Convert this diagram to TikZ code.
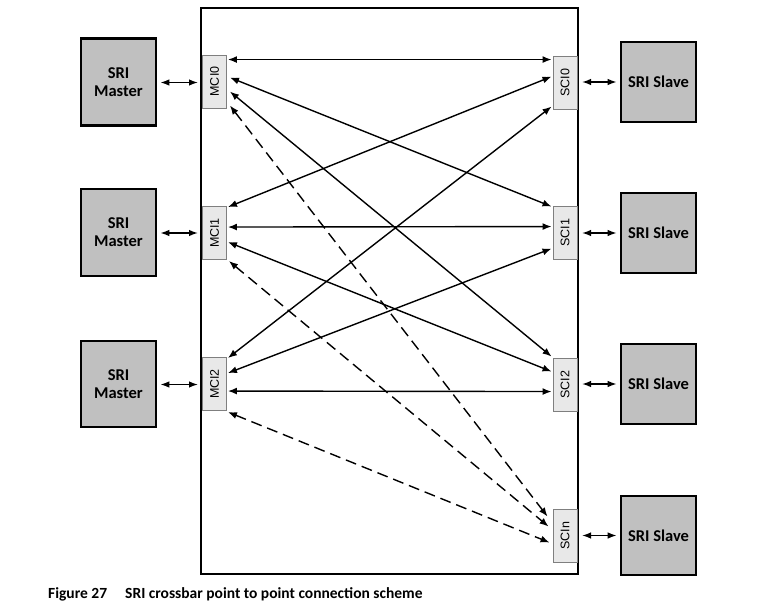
\documentclass[tikz,border=0pt]{standalone}
\usepackage{fontspec}
\setmainfont{Carlito}
\newfontfamily\portfont{Liberation Sans}
\usetikzlibrary{arrows.meta,calc}
\definecolor{boxgray}{HTML}{C0C0C0}
\definecolor{portgray}{HTML}{E8E8E8}
\definecolor{portedge}{HTML}{7F7F7F}
\tikzset{
  unitbox/.style={draw=black,line width=2.6pt,fill=boxgray,minimum width=75pt,inner sep=0pt,align=center,font=\fontsize{16.5}{18}\selectfont\bfseries},
  portbox/.style={draw=portedge,line width=0.9pt,fill=portgray,minimum width=24pt,minimum height=53pt,inner sep=0pt},
  portlabel/.style={rotate=90,font=\portfont\fontsize{12.5}{12.5}\selectfont},
  link/.style={line width=1.4pt,{Latex[length=9pt,width=7pt]}-{Latex[length=9pt,width=7pt]}},
  dlink/.style={link,dash pattern=on 11pt off 6pt},
  sidelink/.style={line width=1.4pt,{Latex[length=9pt,width=6.5pt]}-{Latex[length=9pt,width=6.5pt]}},
  captext/.style={anchor=base west,inner sep=0pt,font=\fontsize{15.5}{17}\selectfont\bfseries}
}
\begin{document}
\begin{tikzpicture}[x=1pt,y=-1pt]
\useasboundingbox (0,0) rectangle (781,604);
% crossbar frame
\draw[line width=2pt] (201,8) rectangle (578,574);
\coordinate (frameL) at (201,300);
\coordinate (frameR) at (578,300);
% masters
\node[unitbox,minimum height=87pt] (m0) at (118.5,82) {SRI\\Master};
\node[unitbox,minimum height=87pt] (m1) at (118.5,232.5) {SRI\\Master};
\node[unitbox,minimum height=86pt] (m2) at (118.5,384) {SRI\\Master};
% slaves
\node[unitbox,minimum height=80pt] (s0) at (658.5,82) {SRI Slave};
\node[unitbox,minimum height=80pt] (s1) at (658.5,233) {SRI Slave};
\node[unitbox,minimum height=80pt] (s2) at (658.5,384) {SRI Slave};
\node[unitbox,minimum height=79pt] (s3) at (658.5,535.5) {SRI Slave};
% ports
\node[portbox] (mci0) at (214.5,81.5) {};
\node[portbox] (mci1) at (214.5,233) {};
\node[portbox] (mci2) at (214.5,384) {};
\node[portbox] (sci0) at (565,82.5) {};
\node[portbox] (sci1) at (565,232.5) {};
\node[portbox] (sci2) at (565,384.5) {};
\node[portbox] (sci3) at (565,535.5) {};
\node[portlabel] at (mci0) {MCI0};
\node[portlabel] at (mci1) {MCI1};
\node[portlabel] at (mci2) {MCI2};
\node[portlabel] at (sci0) {SCI0};
\node[portlabel] at (sci1) {SCI1};
\node[portlabel] at (sci2) {SCI2};
\node[portlabel] at (sci3) {SCIn};
% master / slave side links
\draw[sidelink] ($(m0.east)+(3,0.5)$) -- ($(m0.east -| frameL)+(-3,0.5)$);
\draw[sidelink] ($(m1.east)+(3,0.5)$) -- ($(m1.east -| frameL)+(-3,0.5)$);
\draw[sidelink] ($(m2.east)+(3,0.5)$) -- ($(m2.east -| frameL)+(-3,0.5)$);
\draw[sidelink] ($(s0.west -| frameR)+(4,0)$) -- ($(s0.west)+(-3,0)$);
\draw[sidelink] ($(s1.west -| frameR)+(4,0)$) -- ($(s1.west)+(-3,0)$);
\draw[sidelink] ($(s2.west -| frameR)+(4,0)$) -- ($(s2.west)+(-3,0)$);
\draw[sidelink] ($(s3.west -| frameR)+(4,0)$) -- ($(s3.west)+(-3,0)$);
% crossbar links from MCI0
\draw[link] ($(mci0.north east)+(1,5)$) -- ($(sci0.north west)+(-1,4)$);
\draw[link] ($(mci0.north east)+(3,23)$) -- ($(sci1.north west)+(-1,1)$);
\draw[link] ($(mci0.north east)+(3,37)$) -- ($(sci2.north west)+(-1,-1)$);
\draw[dlink] ($(mci0.north east)+(3,51)$) -- ($(sci3.north west)+(-5,8)$);
% from MCI1
\draw[link] ($(mci1.north east)+(1,1)$) -- ($(sci0.north west)+(-1,21)$);
\draw[link] ($(mci1.north east)+(1,21)$) -- ($(sci1.north west)+(-1,21)$);
\draw[link] ($(mci1.north east)+(1,36)$) -- ($(sci2.north west)+(-1,14)$);
\draw[dlink] ($(mci1.north east)+(2,55)$) -- ($(sci3.north west)+(-4,18)$);
% from MCI2
\draw[link] ($(mci2.north east)+(1,1)$) -- ($(sci0.north west)+(-1,51)$);
\draw[link] ($(mci2.north east)+(1,16)$) -- ($(sci1.north west)+(-1,43)$);
\draw[link] ($(mci2.north east)+(1,34)$) -- ($(sci2.north west)+(-1,34)$);
\draw[dlink] ($(mci2.north east)+(1,55)$) -- ($(sci3.north west)+(-3,34)$);
% caption
\node[captext] (fig) at (48,598) {Figure 27};
\node[captext] (cap) at (125,598) {SRI crossbar point to point connection scheme};
\end{tikzpicture}
\end{document}
